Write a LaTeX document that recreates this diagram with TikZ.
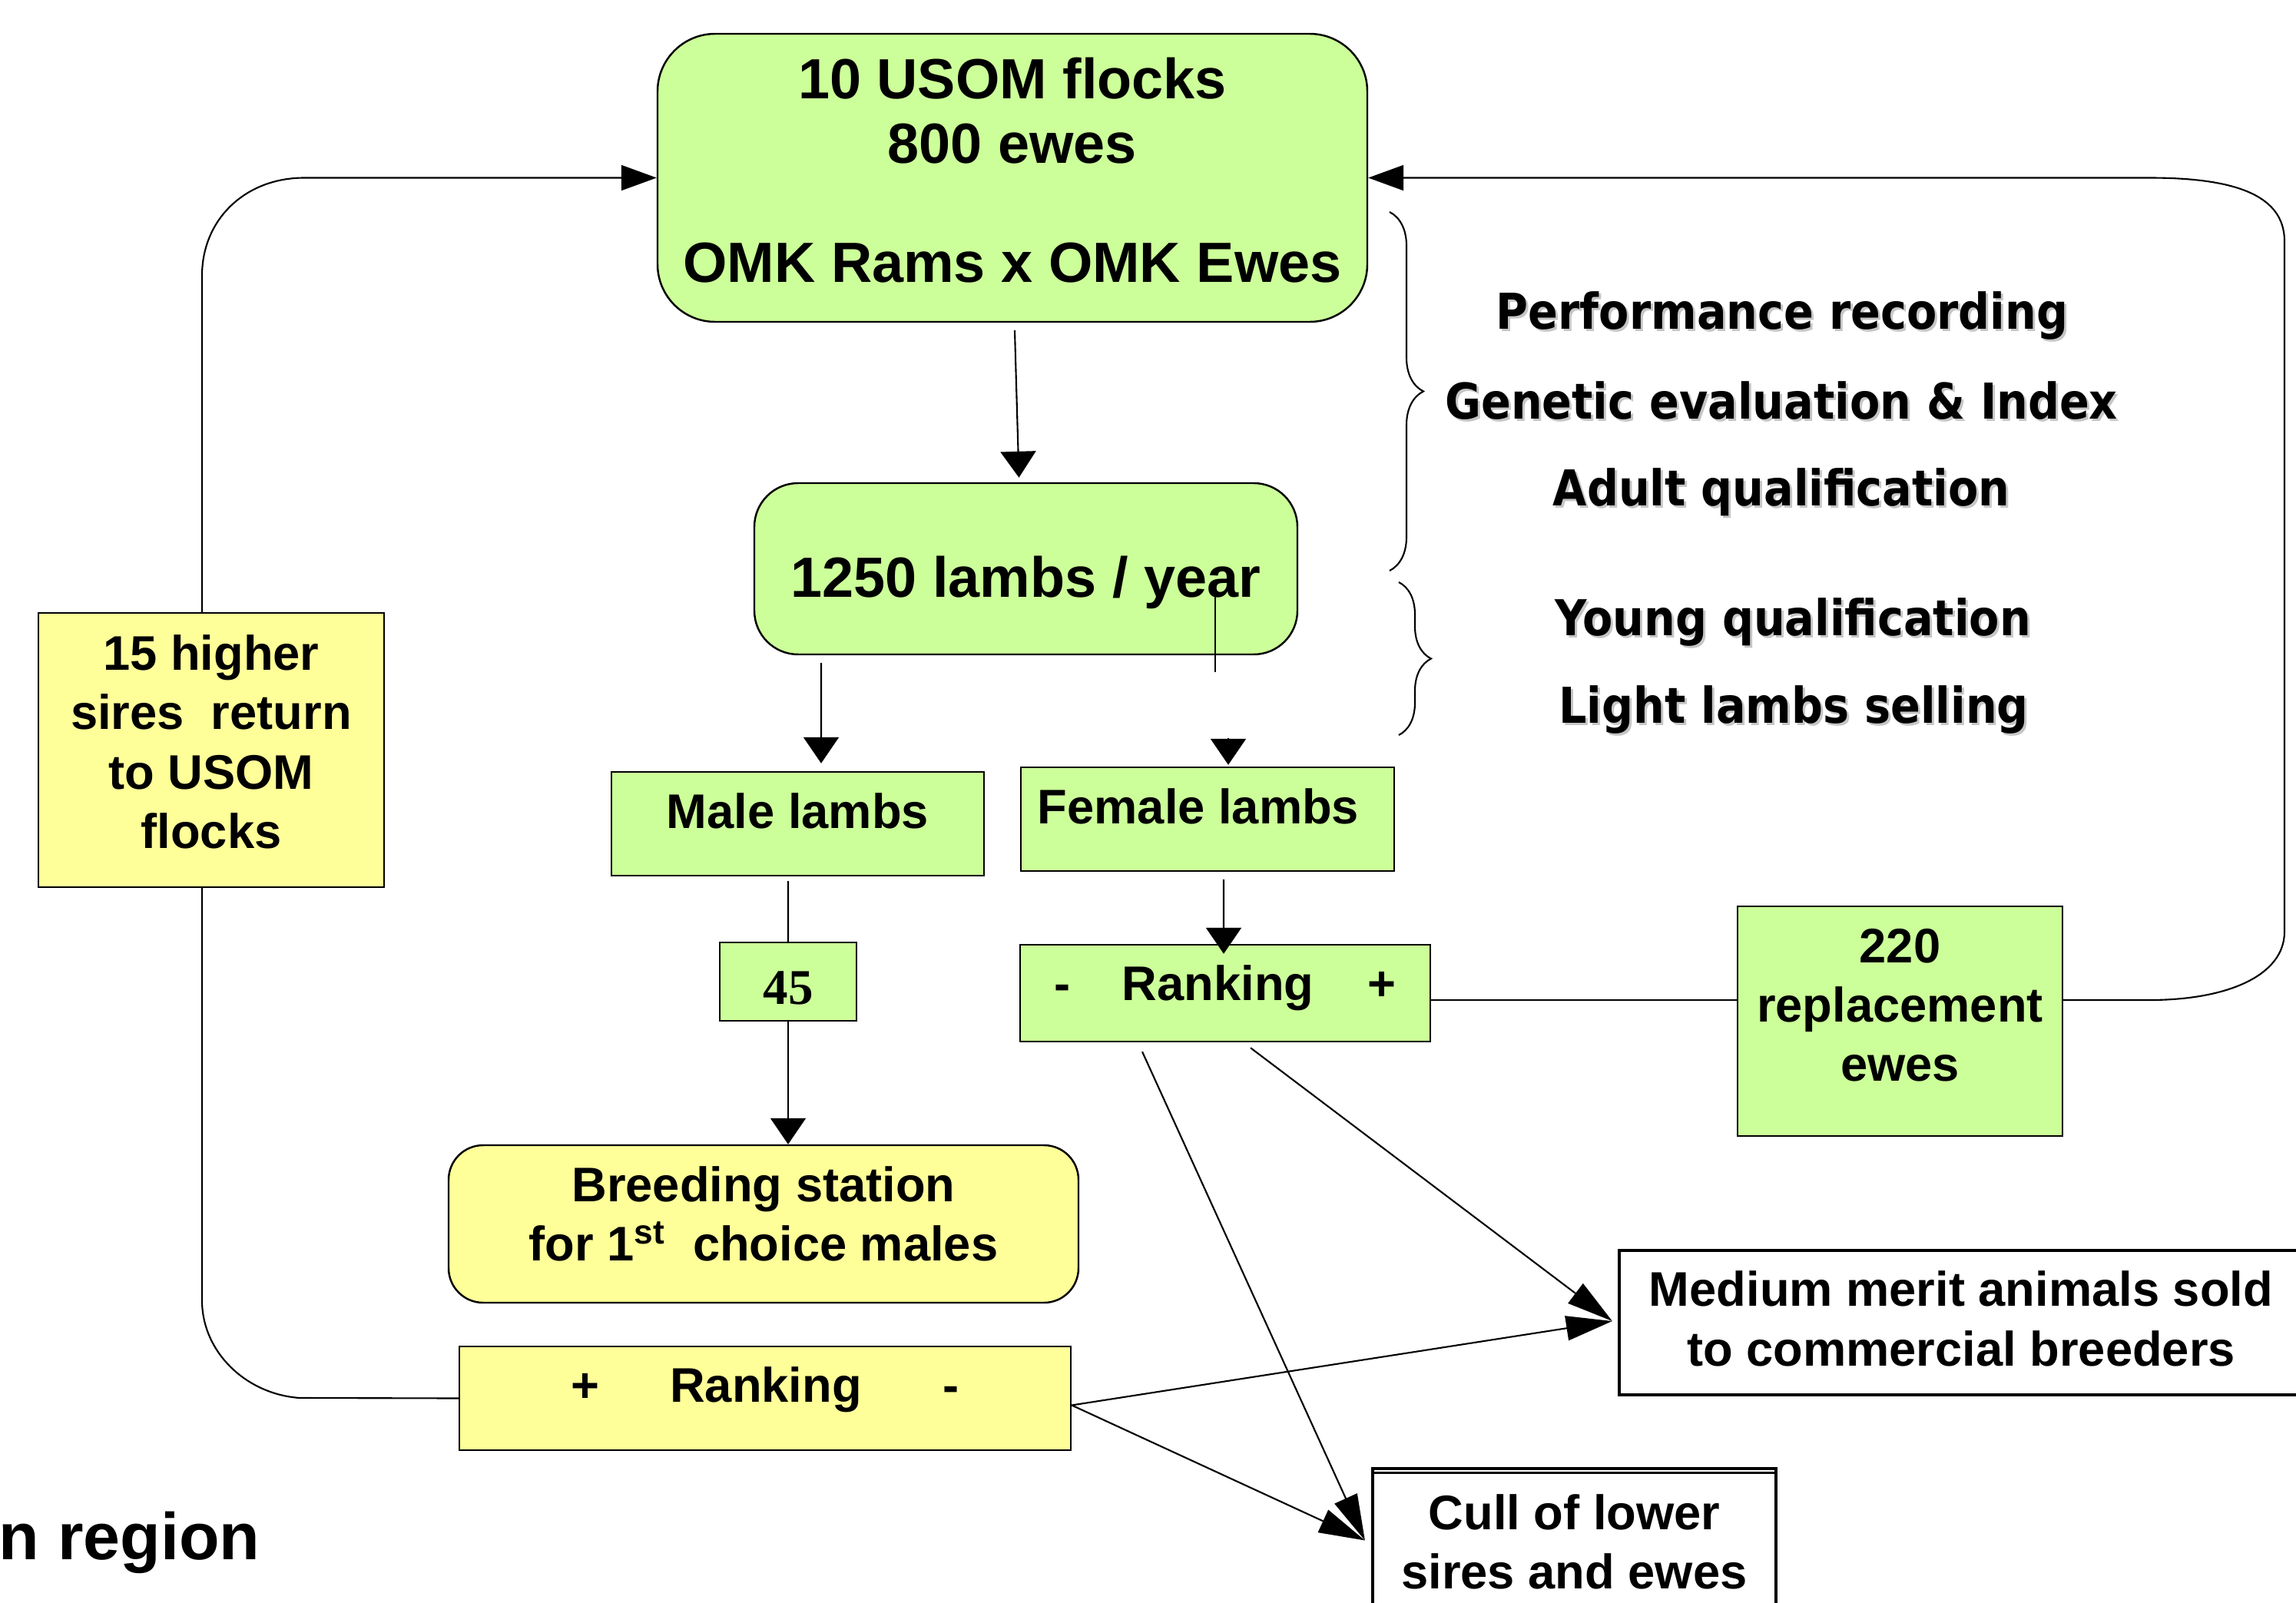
\documentclass[tikz,border=0pt]{standalone}
\usepackage{fontspec}
\setmainfont{Liberation Sans}
\newfontfamily\sidefont[FakeStretch=0.89]{DejaVu Sans}
\newfontfamily\numfont{Liberation Serif}
\usetikzlibrary{arrows.meta}
\usetikzlibrary{calc}
\usetikzlibrary{positioning}
\usetikzlibrary{decorations.pathreplacing}

\definecolor{lightgreen}{HTML}{CCFF99}
\definecolor{lightyellow}{HTML}{FFFF99}

\newcommand{\lowstrut}[1]{\rule[-#1]{0pt}{#1}}

\tikzset{
	box/.style={draw, line width=0.7pt, align=center, inner sep=0pt,
		font=\bfseries\fontsize{18}{22}\selectfont},
	greenbox/.style={box, fill=lightgreen},
	yellowbox/.style={box, fill=lightyellow},
	outbox/.style={box, fill=white, line width=1.2pt},
	link/.style={line width=0.6pt},
	arr/.style={link, -{Triangle[length=3.4mm, width=4.6mm]}},
	arrl/.style={link, -{Triangle[length=4.6mm, width=3.3mm]}},
	arrd/.style={link, -{Triangle[length=6mm, width=3.2mm]}},
	sidetext/.style={anchor=base, inner sep=0pt, font=\sidefont\bfseries\fontsize{18.3}{22}\selectfont},
}

\begin{document}
\begin{tikzpicture}[y=-1cm]
	\useasboundingbox (0,0) rectangle (29.89,20.87);

	\path
	(13.18,2.315) node[greenbox, rounded corners=0.75cm, minimum width=9.24cm, minimum height=3.75cm, font=\bfseries\fontsize{21}{24}\selectfont] (usom) {10 USOM flocks\\800 ewes\\[0.7cm]OMK Rams x OMK Ewes\lowstrut{0.21cm}}
	(13.355,7.405) node[greenbox, rounded corners=0.57cm, minimum width=7.07cm, minimum height=2.23cm, font=\bfseries\fontsize{21}{24}\selectfont, text height=0.89cm] (lambs) {1250 lambs / year}
	(10.385,10.725) node[greenbox, minimum width=4.85cm, minimum height=1.35cm, text depth=0.34cm] (male) {Male lambs}
	(15.72,10.665) node[greenbox, minimum width=4.86cm, minimum height=1.35cm, text depth=0.34cm] (female) {Female lambs\hspace{0.24cm}}
	(10.26,12.78) node[greenbox, minimum width=1.78cm, minimum height=1.02cm, font=\numfont\bfseries\fontsize{18.5}{22}\selectfont, text height=0.59cm] (n45) {45}
	(15.95,12.93) node[greenbox, minimum width=5.34cm, minimum height=1.26cm, text depth=0.27cm] (rankf) {-\hspace{0.67cm}Ranking\hspace{0.7cm}+}
	(24.735,13.295) node[greenbox, minimum width=4.23cm, minimum height=2.99cm] (repl) {220\\replacement\\ewes\lowstrut{0.42cm}}
	(2.75,9.765) node[yellowbox, minimum width=4.5cm, minimum height=3.57cm] (hs) {15 higher\\sires~ return\\to USOM\\flocks\lowstrut{0.22cm}}
	(9.94,15.935) node[yellowbox, rounded corners=0.45cm, minimum width=8.2cm, minimum height=2.05cm] (breed) {Breeding station\\for 1\textsuperscript{st}~ choice males\lowstrut{0.27cm}}
	(9.96,18.205) node[yellowbox, minimum width=7.96cm, minimum height=1.35cm, text depth=0.36cm] (rankm) {+\hspace{0.92cm}Ranking\hspace{1.06cm}-}
	(25.53,17.22) node[outbox, minimum width=8.9cm, minimum height=1.88cm] (medium) {Medium merit animals sold\\to commercial breeders\lowstrut{0.11cm}}
	(20.495,20.075) node[outbox, minimum width=5.25cm, minimum height=1.91cm] (cull) {Cull of lower\\sires and ewes};

	\node[anchor=base east, inner sep=0pt, font=\bfseries\fontsize{24.5}{28}\selectfont] (region) at (3.39,20.30) {n region};

	% second line on top of the cull box
	\draw[line width=0.8pt] ([yshift=-0.08cm]cull.north west) -- ([yshift=-0.08cm]cull.north east);

	% flow down
	\draw[arr] ($(usom.south)+(0.03,0.1)$) -- ($(lambs.north)+(-0.09,-0.06)$);
	\draw[arr] ($(lambs.south)+(-2.665,0.1)$) -- ($(male.north)+(0.305,-0.1)$);
	\draw[link] ($(lambs.center)+(2.465,0.345)$) -- ($(lambs.center)+(2.465,1.345)$);
	\draw[arr] ($(female.north)+(0.27,-0.37)$) -- ($(female.north)+(0.27,-0.02)$);
	\draw[link] ($(male.south)+(-0.125,0.06)$) -- (n45.north);
	\draw[arr] (n45.south) -- (n45.south |- breed.north);
	\draw[arr] ($(female.south)+(0.21,0.1)$) -- ($(rankf.north)+(-0.02,0.13)$);

	% replacement ewes back to the flocks
	\coordinate (lnk) at ($(rankf.east)+(0,0.09)$);
	\draw[link] (lnk) -- (lnk -| repl.west);
	\draw[arrl] (lnk -| repl.east) -- (27.98,13.02) .. controls (29.0,13.02) and (29.74,12.7) .. (29.74,12.13) -- (29.74,3.14) .. controls (29.74,2.5) and (29.0,2.315) .. (27.98,2.315) -- (usom.east);

	% sires back to the flocks
	\draw[link] (rankm.west) -- (3.9,18.2) .. controls (3.2,18.15) and (2.63,17.6) .. (2.63,16.93) -- ($(hs.south)+(-0.12,0)$);
	\draw[arrl] ($(hs.north)+(-0.12,0)$) -- (2.63,3.59) .. controls (2.63,2.85) and (3.2,2.315) .. (3.96,2.315) -- (usom.west);

	% sold and culled
	\draw[arrd] ($(rankf.south)+(-1.08,0.12)$) -- ($(cull.west)+(-0.08,-0.02)$);
	\draw[arrd] ($(rankf.south)+(0.33,0.07)$) -- ($(medium.west)+(-0.07,-0.02)$);
	\draw[arrd] ($(rankm.east)+(0,0.09)$) -- ($(medium.west)+(-0.07,-0.02)$);
	\draw[arrd] ($(rankm.east)+(0,0.09)$) -- ($(cull.west)+(-0.08,-0.02)$);

	% braces and steps
	\draw[link, decorate, decoration={brace, amplitude=0.44cm}] (18.09,2.76) -- (18.09,7.43);
	\draw[link, decorate, decoration={brace, amplitude=0.42cm}] (18.21,7.58) -- (18.21,9.57);

	\foreach \txt/\xpos/\ypos [count=\i] in {Performance recording/23.20/4.28, Genetic evaluation \& Index/23.19/5.45, Adult qualification/23.19/6.58, Young qualification/23.34/8.27, Light lambs selling/23.35/9.41}{
		\node[sidetext, text=gray!45] (shadow\i) at (\xpos+0.03,\ypos+0.03) {\txt};
		\node[sidetext] (side\i) at (\xpos,\ypos) {\txt};
	}
\end{tikzpicture}
\end{document}
